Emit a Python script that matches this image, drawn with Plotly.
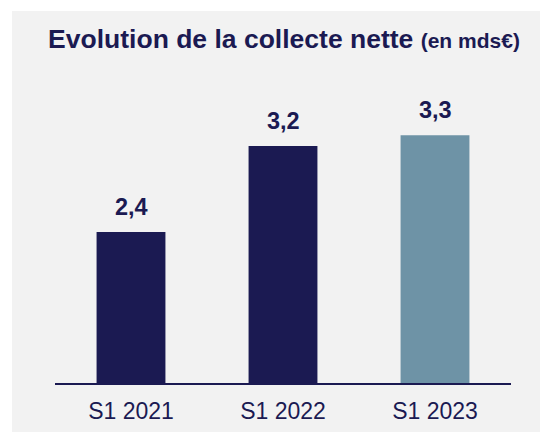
import plotly.graph_objects as go

categories = ["S1 2021", "S1 2022", "S1 2023"]
values = [2.4, 3.2, 3.3]
labels = ["2,4", "3,2", "3,3"]
colors = ["#1B1A52", "#1B1A52", "#6E93A6"]

NAVY = "#1B1A52"
FONT = "Liberation Sans, Arial, sans-serif"

fig = go.Figure()
fig.add_trace(go.Bar(x=categories, y=values, marker=dict(color=colors, line=dict(width=0)),
                     hoverinfo="skip", showlegend=False))

for c, v, t in zip(categories, values, labels):
    fig.add_annotation(x=c, y=v, text="<b>%s</b>" % t, showarrow=False,
                       yanchor="middle", yshift=25,
                       font=dict(family=FONT, size=23.5, color=NAVY))

W, H = 548, 432
L, R, T, B = 47, 45, 52, 57
pw, ph = W - L - R, H - T - B

fig.add_shape(type="rect", xref="paper", yref="paper",
              x0=(4 - L) / pw, x1=(W - L) / pw,
              y0=-B / ph, y1=(H - B - 3) / ph,
              fillcolor="#F2F2F2", line=dict(width=0), layer="below")

fig.update_layout(
    width=W, height=H,
    margin=dict(l=L, r=R, t=T, b=B),
    paper_bgcolor="white",
    plot_bgcolor="rgba(0,0,0,0)",
    bargap=0.547,
    title=dict(text="<b>Evolution de la collecte nette</b> <b><span style='font-size:21px'>(en mds€)</span></b>",
               x=276 / W, xanchor="center", y=1 - 31 / H, yanchor="middle",
               yref="container", xref="container",
               font=dict(family=FONT, size=26.5, color=NAVY)),
    xaxis=dict(showline=True, linecolor=NAVY, linewidth=1.5, showgrid=False, zeroline=False,
               tickfont=dict(family=FONT, size=23, color=NAVY), ticks="",
               ticklabelstandoff=7, fixedrange=True),
    yaxis=dict(range=[0.995, 4.0], visible=False, showgrid=False, zeroline=False, fixedrange=True),
)

fig.write_html("out.html")
